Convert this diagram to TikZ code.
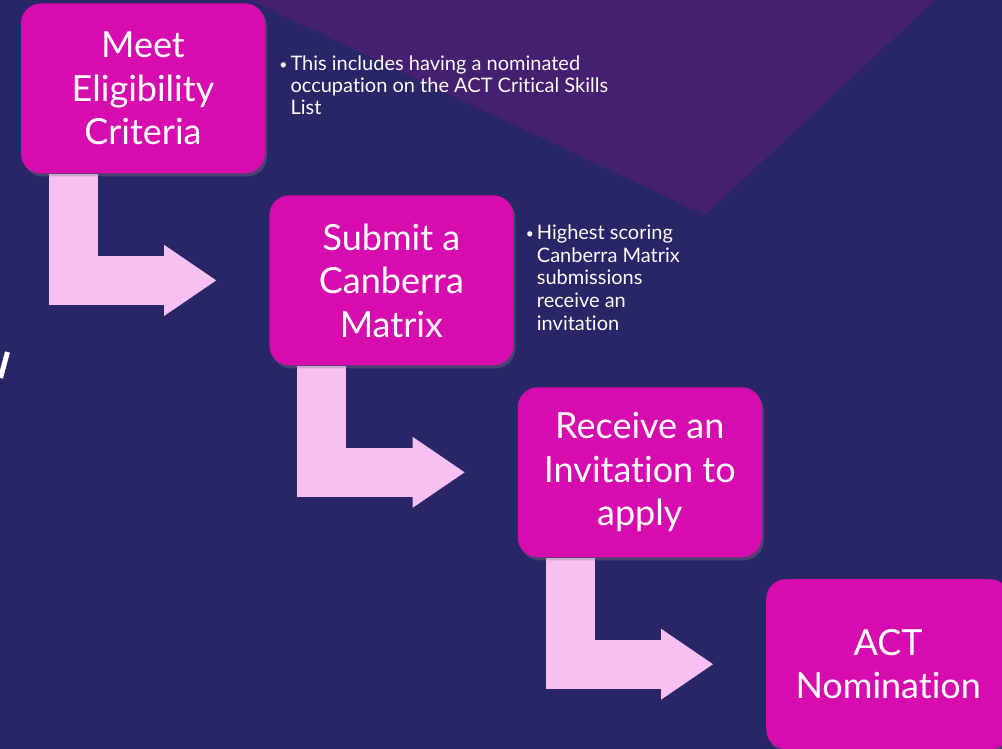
\documentclass[tikz,border=0pt]{standalone}
\usepackage{fontspec}
\setmainfont{Lato}[Ligatures=NoCommon]
\usepackage{xcolor}
\usepackage{tikz}
\usetikzlibrary{arrows.meta, positioning, calc, backgrounds, shadows}
\definecolor{navybg}{RGB}{41, 38, 104}
\definecolor{bandpurple}{RGB}{70, 32, 112}
\definecolor{stepmagenta}{RGB}{214, 12, 175}
\definecolor{arrowpink}{RGB}{247, 192, 241}
\newcommand{\notedot}{{\fontsize{14}{22}\selectfont\raisebox{1pt}{\textbullet}}}

\begin{document}
\begin{tikzpicture}[
  x=1pt, y=-1pt,
  node distance=21.5pt and 4pt,
  stepbox/.style={rectangle, rounded corners=20pt, fill=stepmagenta, text=white,
               minimum width=244pt, minimum height=170pt, inner sep=0pt, align=center,
               font=\fontsize{36}{43.5}\selectfont,
               drop shadow={shadow xshift=2pt, shadow yshift=-3pt, opacity=0.35}},
  note/.style={text=white!94!pink, inner sep=0pt, font=\fontsize{20}{22}\selectfont},
  bentarrow/.style={draw=arrowpink, line width=49pt,
               -{Triangle[width=71pt, length=52pt, line width=0pt]}}
]
\useasboundingbox (0,0) rectangle (1002,749);

\node[stepbox] (s1) at (143,88.5) {Meet\\Eligibility\\Criteria};
\node[stepbox, below right=of s1] (s2) {Submit a\\Canberra\\Matrix};
\node[stepbox, below right=of s2] (s3) {Receive an\\Invitation to\\apply};
\node[stepbox, below right=of s3] (s4) {ACT\\Nomination};

\node[note, right=14pt of s1] (n1) {\begin{tabular}{@{}l@{\hspace{3pt}}l@{}}
  \notedot & This includes having a nominated\\
  & occupation on the ACT Critical Skills\\
  & List
\end{tabular}};
\node[note, font=\fontsize{20}{22.8}\selectfont, right=12pt of s2] (n2) {\begin{tabular}{@{}l@{\hspace{3pt}}l@{}}
  \notedot & Highest scoring\\
  & Canberra Matrix\\
  & submissions\\
  & receive an\\
  & invitation
\end{tabular}};

\begin{scope}[on background layer]
  \fill[navybg] (0,0) rectangle (1002,749);
  \fill[bandpurple] (250,0) -- (935,0) -- (705,215) -- cycle;
  % bit of a letter cut off at the left edge
  \draw[white, line width=5pt] (7.5,352) -- (0.5,378);
  % bent arrows between the steps
  \draw[bentarrow] ($(s1.south west)+(52.5,0)$) |- ($(s2.west)+(-53,0)$);
  \draw[bentarrow] ($(s2.south west)+(52.5,0)$) |- ($(s3.west)+(-53,0)$);
  \draw[bentarrow] ($(s3.south west)+(52.5,0)$) |- ($(s4.west)+(-53,0)$);
\end{scope}

\end{tikzpicture}
\end{document}
